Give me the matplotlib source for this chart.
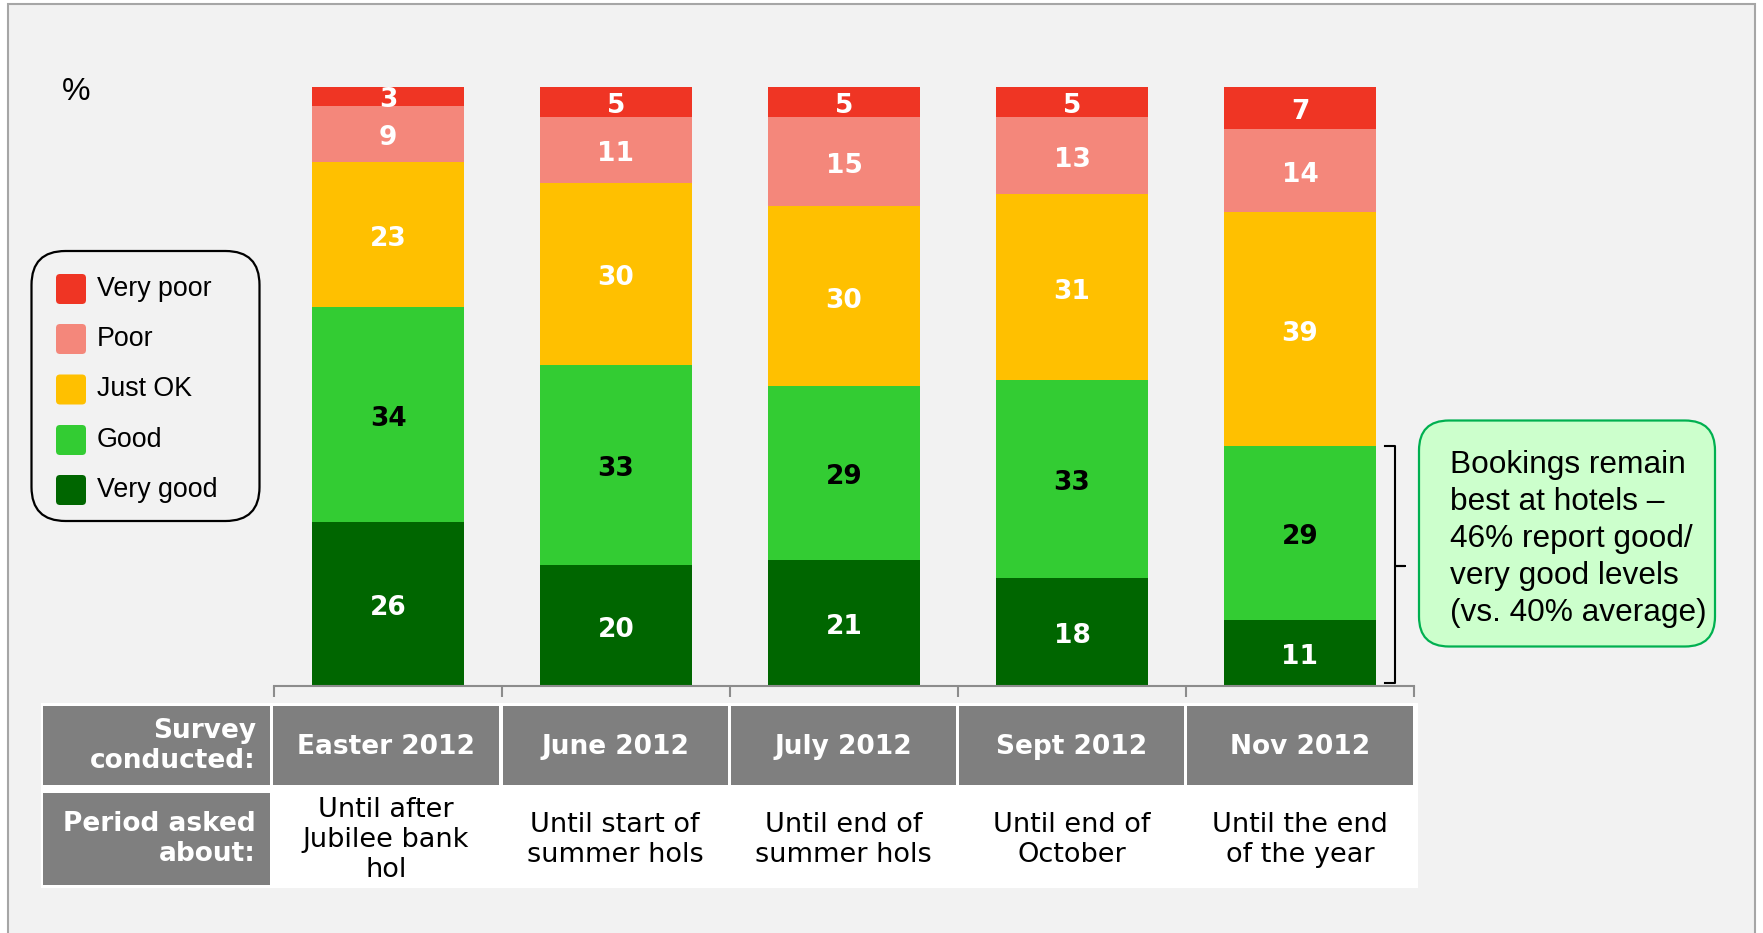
import matplotlib.pyplot as plt
import numpy as np
from matplotlib.patches import FancyBboxPatch, Rectangle

# survey waves and the period each one asked about
waves = ["Easter 2012", "June 2012", "July 2012", "Sept 2012", "Nov 2012"]
periods = ["Until after\nJubilee bank\nhol", "Until start of\nsummer hols",
           "Until end of\nsummer hols", "Until end of\nOctober",
           "Until the end\nof the year"]

# ratings, % of respondents (bottom to top of each bar)
very_good = [26, 20, 21, 18, 11]
good = [34, 33, 29, 33, 29]
just_ok = [23, 30, 30, 31, 39]
poor = [9, 11, 15, 13, 14]
very_poor = [3, 5, 5, 5, 7]

series = [very_good, good, just_ok, poor, very_poor]
names = ["Very good", "Good", "Just OK", "Poor", "Very poor"]
colors = ["#006600", "#33cc33", "#ffc000", "#f4877b", "#ef3524"]
label_colors = ["white", "black", "white", "white", "white"]

note = ("Bookings remain\nbest at hotels \u2013\n46% report good/\n"
        "very good levels\n(vs. 40% average)")

W, H = 1763, 933
fig = plt.figure(figsize=(W / 100, H / 100), dpi=100, facecolor="white")

# pixel-space canvas for frame, legend, table and callout
bg = fig.add_axes([0, 0, 1, 1])
bg.set_xlim(0, W)
bg.set_ylim(H, 0)
bg.axis("off")
bg.add_patch(Rectangle((8, 4), 1747, 940, facecolor="#f2f2f2",
                       edgecolor="#a6a6a6", lw=1.5))

bg.text(62, 92, "%", fontsize=23, family="Liberation Sans", va="center")

# stacked bars, scaled so each bar fills 100
ax = fig.add_axes([274 / W, 1 - 686 / H, 1140 / W, 599.4 / H])
ax.set_zorder(2)
ax.patch.set_visible(False)
data = np.array(series, dtype=float)
shares = data / data.sum(axis=0) * 100
x = np.arange(len(waves))
bottom = np.zeros(len(waves))
for vals, raw, col, lc in zip(shares, data, colors, label_colors):
    ax.bar(x, vals, 0.666, bottom=bottom, color=col, linewidth=0)
    for xi, b, v, r in zip(x, bottom, vals, raw):
        ax.annotate(f"{r:.0f}", (xi, b + v / 2), xytext=(0, -3),
                    textcoords="offset points", ha="center", va="center",
                    fontsize=19, fontweight="bold", color=lc, family="DejaVu Sans")
    bottom += vals

ax.set_xlim(-0.5, 4.5)
ax.set_ylim(0, 100)
for s in ["top", "right", "left"]:
    ax.spines[s].set_visible(False)
ax.spines["bottom"].set_color("#8c8c8c")
ax.spines["bottom"].set_linewidth(1.5)
ax.set_xticks(np.arange(-0.5, 5, 1))
ax.set_yticks([])
ax.tick_params(axis="x", length=8, width=1.5, color="#8c8c8c", labelbottom=False)

# brace over good + very good of the last wave
top = shares[0, -1] + shares[1, -1]
mid = top / 2
bx0, bx1, bx2 = 4.373, 4.417, 4.461
ax.plot([bx0, bx1, bx1, bx2, bx1, bx1, bx0], [top, top, mid, mid, mid, 0.5, 0.5],
        color="black", lw=1.5, clip_on=False)

# legend box
bg.add_patch(FancyBboxPatch((31.5, 251), 228, 270,
                            boxstyle="round,pad=0,rounding_size=34",
                            facecolor="#f2f2f2", edgecolor="black", lw=1.6))
leg_y = [289, 339, 389.5, 440, 490]
for yy, nm, col in zip(leg_y, names[::-1], colors[::-1]):
    bg.add_patch(FancyBboxPatch((56, yy - 15), 30, 30,
                                boxstyle="round,pad=0,rounding_size=4",
                                facecolor=col, edgecolor="none"))
    bg.text(97, yy, nm, fontsize=19.3, family="Liberation Sans", va="center")

# callout
bg.add_patch(FancyBboxPatch((1419, 420.5), 296, 226,
                            boxstyle="round,pad=0,rounding_size=30",
                            facecolor="#ccffcc", edgecolor="#00b050", lw=1.6))
bg.text(1450, 539, note, fontsize=22.8, family="Liberation Sans",
        va="center", ha="left", linespacing=1.3)

# table underneath the bars
bg.add_patch(Rectangle((40.5, 703), 1377, 185, facecolor="white", edgecolor="none"))
grey = "#7f7f7f"
col_edges = [(273, 499), (502.5, 727.5), (731, 956), (959, 1184), (1187, 1413)]
row1 = (706, 785)
row2 = (793, 885)
bg.add_patch(Rectangle((43, row1[0]), 227, row1[1] - row1[0], facecolor=grey, edgecolor="none"))
bg.add_patch(Rectangle((43, row2[0]), 227, row2[1] - row2[0], facecolor=grey, edgecolor="none"))
bg.text(256, (row1[0] + row1[1]) / 2 + 1, "Survey\nconducted:", ha="right", va="center",
        fontsize=19, fontweight="bold", color="white", family="DejaVu Sans",
        linespacing=1.2)
bg.text(256, (row2[0] + row2[1]) / 2, "Period asked\nabout:", ha="right", va="center",
        fontsize=19, fontweight="bold", color="white", family="DejaVu Sans",
        linespacing=1.2)
for (l, r), wv, pr in zip(col_edges, waves, periods):
    bg.add_patch(Rectangle((l, row1[0]), r - l, row1[1] - row1[0], facecolor=grey,
                           edgecolor="none"))
    bg.text((l + r) / 2, (row1[0] + row1[1]) / 2 + 2, wv, ha="center", va="center",
            fontsize=19, fontweight="bold", color="white", family="DejaVu Sans")
    bg.text((l + r) / 2, (row2[0] + row2[1]) / 2 + 1, pr, ha="center", va="center",
            fontsize=19.5, color="black", family="DejaVu Sans", linespacing=1.18)

fig.savefig("out.png", dpi=100, facecolor="white")
